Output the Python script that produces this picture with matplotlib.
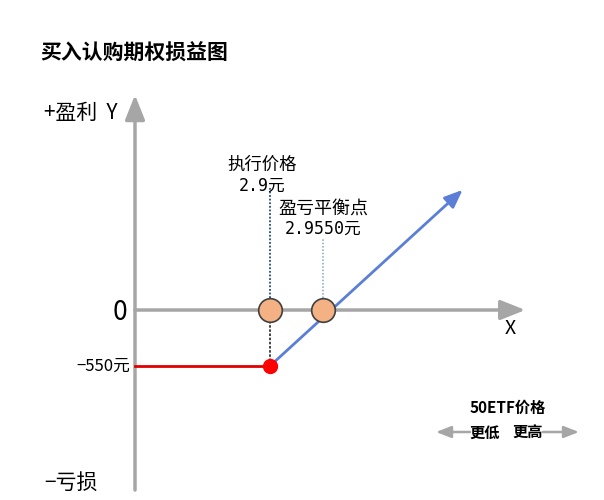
import matplotlib
matplotlib.use('Agg')
import matplotlib.pyplot as plt

plt.rcParams['font.family'] = ['Noto Sans CJK SC', 'DejaVu Sans']

# data
strike = 2.9
breakeven = 2.955
premium = -550
payoff_x = [2.76, 2.9, 3.1]
payoff_y = [-550, -550, 1180]
title = '买入认购期权损益图'

W, H = 604, 500
fig = plt.figure(figsize=(W / 100, H / 100), dpi=100)
ax = fig.add_axes([0, 0, 1, 1])
ax.set_xlim(2.6199, 3.2467)
ax.set_ylim(-1866, 3045)
ax.axis('off')

def fx(x, y):
    return (x / W, 1 - y / H)

grey = '#a6a6a6'
arr = dict(arrowstyle='-|>,head_length=1.5,head_width=0.6', color=grey, lw=2.5, shrinkA=0, shrinkB=0)
# axes
ax.annotate('', xy=(2.76, 2112), xytext=(2.76, -1768), arrowprops=arr)
ax.annotate('', xy=(3.165, 0), xytext=(2.76, 0), arrowprops=arr)

# payoff
ax.plot(payoff_x[:2], payoff_y[:2], color='#e00000', lw=2, zorder=3)
ax.annotate('', xy=(payoff_x[2], payoff_y[2]), xytext=(payoff_x[1], payoff_y[1]),
            arrowprops=dict(arrowstyle='-|>,head_length=1.1,head_width=0.45', color='#5b7fd6',
                            lw=2, shrinkA=0, shrinkB=0), zorder=3)

# guide lines
ax.plot([strike, strike], [120, 1200], ls=(0, (1, 1)), color='#1f4e79', lw=1.3)
ax.plot([breakeven, breakeven], [120, 700], ls=(0, (1, 1.2)), color='#7fa7bf', lw=1.1)
ax.plot([strike, strike], [-110, -490], ls=(0, (1.5, 1)), color='#222222', lw=1.2)

ax.plot([strike, breakeven], [0, 0], 'o', ms=17, mfc='#f4b183', mec='#404040', mew=1.2, zorder=5)
ax.plot([strike], [premium], 'o', ms=10, color='#ff0000', zorder=5)

# labels
fig.text(*fx(40, 53), title, fontsize=15, fontweight='bold', va='center', ha='left')
fig.text(*fx(44, 113), '+盈利  Y', fontsize=15, va='center', ha='left')
fig.text(*fx(44, 483), '−亏损', fontsize=15, va='center', ha='left')
fig.text(*fx(127, 312), '0', fontsize=19, va='center', ha='right')
fig.text(*fx(510, 328), 'X', fontsize=14, va='center', ha='center')
ax.text(2.755, premium, '−550元', fontsize=12, va='center', ha='right')

mono = ['DejaVu Sans Mono', 'Noto Sans CJK SC']
ax.text(strike - 0.008, 1430, '执行价格', fontsize=12.5, ha='center', va='center')
ax.text(strike - 0.008, 1225, '2.9元', fontsize=12, ha='center', va='center', family=mono)
ax.text(breakeven, 1000, '盈亏平衡点', fontsize=13, ha='center', va='center')
ax.text(breakeven, 800, '2.9550元', fontsize=12, ha='center', va='center', family=mono)

fig.text(*fx(508, 408), '50ETF价格', fontsize=11, fontweight='bold', ha='center', va='center')
fig.text(*fx(485, 433), '更低', fontsize=11, fontweight='bold', ha='center', va='center')
fig.text(*fx(528, 433), '更高', fontsize=11, fontweight='bold', ha='center', va='center')
small = dict(arrowstyle='-|>,head_length=0.9,head_width=0.35', color=grey, lw=1.8, shrinkA=0, shrinkB=0)
ax.annotate('', xy=fx(436, 432), xytext=fx(470, 432), xycoords='figure fraction',
            textcoords='figure fraction', arrowprops=small)
ax.annotate('', xy=fx(579, 432), xytext=fx(543, 432), xycoords='figure fraction',
            textcoords='figure fraction', arrowprops=small)

fig.savefig('out.png', dpi=100)
